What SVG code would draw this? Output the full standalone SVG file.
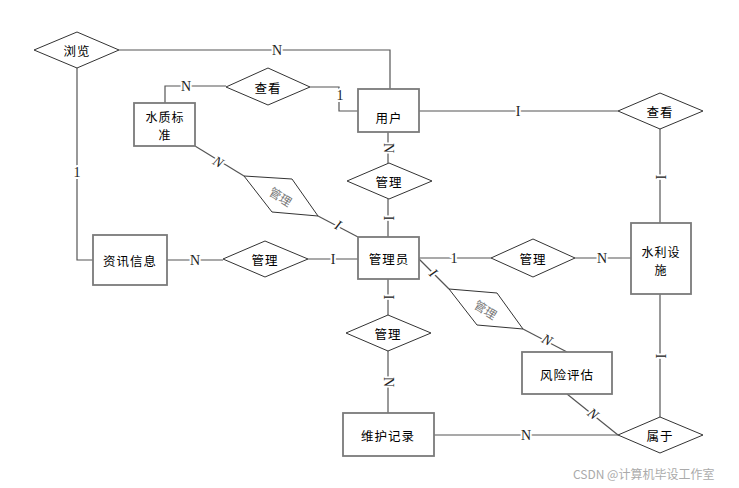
<svg xmlns="http://www.w3.org/2000/svg" width="739" height="488" viewBox="0 0 739 488">
<style>
.ent{fill:#fff;stroke:#7a7a7a;stroke-width:1.8}
.rel{fill:#fff;stroke:#333;stroke-width:1}
.t{font-family:"Noto Sans CJK SC","Liberation Sans",sans-serif;font-size:12.5px;fill:#000;text-anchor:middle;dominant-baseline:central;letter-spacing:1px}
.t2{font-size:12px}
.tg{font-family:"Noto Sans CJK SC","Liberation Sans",sans-serif;font-size:12px;fill:#777;text-anchor:middle;dominant-baseline:central}
.c{fill:none;stroke:#555;stroke-width:1.2}
.l{font-family:"Liberation Serif",serif;font-size:14px;fill:#222;text-anchor:middle;dominant-baseline:central;stroke:#fff;stroke-width:4;paint-order:stroke}
.li{font-style:italic}
.wm{font-family:"Noto Sans CJK SC","Liberation Sans",sans-serif;font-size:12px;fill:#aaa}
</style>
<rect width="739" height="488" fill="#fff"/>
<g id="connectors">
<polyline class="c" points="119,50 390,50 390,89"/>
<polyline class="c" points="77,68 77,260 93,260"/>
<polyline class="c" points="165,103 165,86 226,86"/>
<polyline class="c" points="310,87 339,87 339,111 358,111"/>
<line class="c" x1="419" y1="111" x2="618" y2="111"/>
<line class="c" x1="388" y1="132" x2="388" y2="163"/>
<line class="c" x1="388" y1="199" x2="388" y2="237"/>
<line class="c" x1="167" y1="260" x2="223" y2="260"/>
<line class="c" x1="308" y1="259" x2="358" y2="259"/>
<line class="c" x1="660" y1="129" x2="660" y2="223"/>
<line class="c" x1="419" y1="258" x2="491" y2="258"/>
<line class="c" x1="575" y1="258" x2="631" y2="258"/>
<line class="c" x1="419" y1="259" x2="449" y2="289"/>
<line class="c" x1="523" y1="329" x2="567" y2="352"/>
<line class="c" x1="195" y1="146" x2="244" y2="176"/>
<line class="c" x1="318" y1="216" x2="358" y2="237"/>
<line class="c" x1="388" y1="279" x2="388" y2="315"/>
<line class="c" x1="388" y1="351" x2="388" y2="413"/>
<line class="c" x1="434" y1="435" x2="618" y2="435"/>
<line class="c" x1="567" y1="394" x2="618" y2="435"/>
<line class="c" x1="660" y1="294" x2="660" y2="417"/>
<text class="l" x="277" y="50">N</text>
<text class="l" x="77" y="172">1</text>
<text class="l" x="186" y="86">N</text>
<text class="l" x="340" y="95">1</text>
<text class="l" x="518" y="111">I</text>
<text class="l" transform="translate(388,148) rotate(90)">N</text>
<text class="l" transform="translate(388,218) rotate(90)">I</text>
<text class="l" x="195" y="260">N</text>
<text class="l" x="333" y="259">I</text>
<text class="l" transform="translate(660,177) rotate(90)">I</text>
<text class="l" x="454" y="258">1</text>
<text class="l" x="602" y="258">N</text>
<text class="l li" transform="translate(433,273) rotate(45)">I</text>
<text class="l li" transform="translate(547,340) rotate(28)">N</text>
<text class="l li" transform="translate(218,162) rotate(31)">N</text>
<text class="l li" transform="translate(338,225) rotate(28)">I</text>
<text class="l" transform="translate(388,297) rotate(90)">I</text>
<text class="l" transform="translate(388,382) rotate(90)">N</text>
<text class="l" x="526" y="435">N</text>
<text class="l li" transform="translate(593,414) rotate(39)">N</text>
<text class="l" transform="translate(660,356) rotate(90)">I</text>
</g>
<g id="liulan"><polygon class="rel" points="34,50 77,32 119,50 77,68"/><text class="t" x="77" y="50">浏览</text></g>
<g id="chakan1"><polygon class="rel" points="226,87 268,68 310,87 268,105"/><text class="t" x="268" y="87">查看</text></g>
<g id="shuizhi"><rect class="ent" x="134" y="103" width="61" height="43"/><text class="t t2"><tspan x="165" y="116">水质标</tspan><tspan x="165" y="134">准</tspan></text></g>
<g id="yonghu"><rect class="ent" x="358" y="89" width="61" height="43"/><text class="t" x="389" y="117">用户</text></g>
<g id="chakan2"><polygon class="rel" points="618,111 660,93 703,111 660,129"/><text class="t" x="660" y="111">查看</text></g>
<g id="guanli1"><polygon class="rel" points="347,181 389,163 432,181 389,199"/><text class="t" x="389" y="181">管理</text></g>
<g id="guanli2"><polygon class="rel" points="244,176 292,179 318,216 272,212"/><text class="tg" transform="translate(281,196) rotate(32)">管理</text></g>
<g id="zixun"><rect class="ent" x="93" y="235" width="74" height="50"/><text class="t" x="130" y="260">资讯信息</text></g>
<g id="guanli3"><polygon class="rel" points="223,259 265,241 308,259 265,277"/><text class="t" x="265" y="259">管理</text></g>
<g id="guanliyuan"><rect class="ent" x="358" y="237" width="61" height="42"/><text class="t" x="389" y="258">管理员</text></g>
<g id="guanli4"><polygon class="rel" points="491,258 533,239 575,258 533,277"/><text class="t" x="533" y="258">管理</text></g>
<g id="shuili"><rect class="ent" x="631" y="223" width="60" height="71"/><text class="t t2"><tspan x="661" y="251">水利设</tspan><tspan x="661" y="269">施</tspan></text></g>
<g id="guanli5"><polygon class="rel" points="449,289 497,293 523,329 477,325"/><text class="tg" transform="translate(486,309) rotate(32)">管理</text></g>
<g id="fengxian"><rect class="ent" x="522" y="352" width="90" height="42"/><text class="t" x="567" y="374">风险评估</text></g>
<g id="guanli6"><polygon class="rel" points="346,333 388,315 431,333 388,351"/><text class="t" x="388" y="333">管理</text></g>
<g id="weihu"><rect class="ent" x="343" y="413" width="91" height="43"/><text class="t" x="388" y="435">维护记录</text></g>
<g id="shuyu"><polygon class="rel" points="618,435 660,417 703,435 660,453"/><text class="t" x="660" y="435">属于</text></g>
<text class="wm" x="573" y="479">CSDN @计算机毕设工作室</text>
</svg>
